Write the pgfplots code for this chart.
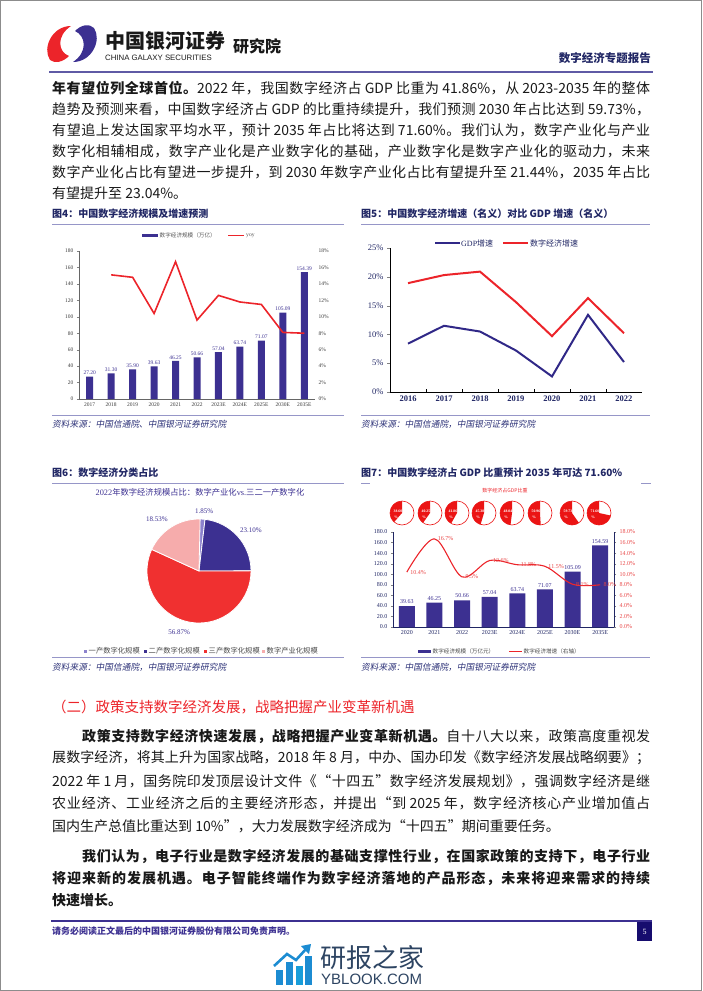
\documentclass[border=0pt]{standalone}
\usepackage{fontspec}
\usepackage{pgfplots}
\pgfplotsset{compat=1.18}
\setmainfont{Liberation Serif}
\newfontfamily\cjk{Noto Sans CJK SC}
\newfontfamily\cjkit{Noto Sans CJK SC}[FakeSlant=0.18]
\newfontfamily\sansf{Liberation Sans}
\newXeTeXintercharclass\cjkcls
\newcount\cjkc
\def\setcjkrange#1#2{\cjkc=#1\relax\loop\XeTeXcharclass\cjkc=\cjkcls\relax\ifnum\cjkc<#2\relax\advance\cjkc by 1\relax\repeat}
\setcjkrange{"3000}{"303F}
\setcjkrange{"4E00}{"9FFF}
\setcjkrange{"FF00}{"FFEF}
\XeTeXinterchartokenstate=1
\XeTeXinterchartoks\cjkcls\cjkcls={\hskip0pt plus 1fil minus 0.3pt\relax}
\XeTeXinterchartoks 0 \cjkcls={\hskip0pt plus 1fil minus 0.3pt\relax}
\XeTeXinterchartoks\cjkcls 0 ={\hskip0pt plus 1fil minus 0.3pt\relax}
\definecolor{navy}{RGB}{60,48,145}
\definecolor{gdpblue}{RGB}{48,40,135}
\definecolor{dnavy}{RGB}{32,38,100}
\definecolor{rred}{RGB}{236,36,42}
\definecolor{lred}{RGB}{232,70,70}
\definecolor{rulec}{RGB}{150,150,200}
\definecolor{srcc}{RGB}{45,50,120}
\definecolor{txt}{RGB}{25,25,25}
\definecolor{lpur}{RGB}{140,130,205}
\definecolor{pinkc}{RGB}{246,172,172}
\definecolor{pier}{RGB}{240,48,48}
\definecolor{minired}{RGB}{235,20,20}
\definecolor{wmblue}{RGB}{28,140,210}
\definecolor{wmtext}{RGB}{45,68,98}
\definecolor{hdrrule}{RGB}{95,90,165}
\definecolor{framec}{RGB}{140,140,140}
\definecolor{boxc}{RGB}{22,12,110}
\newcommand{\fs}[1]{\fontsize{#1}{#1}\selectfont}
\newcommand{\jl}[4]{\node[anchor=west,inner sep=0pt,text=txt] at (#1,#2) {\cjk\fs{14}\makebox[#3pt][s]{#4}};}
\newcommand{\jn}[3]{\node[anchor=west,inner sep=0pt,text=txt] at (#1,#2) {\cjk\fs{14}#3};}
\newcommand{\minipie}[3]{%
  \fill[white] (axis cs:#1,-513) circle[radius=12pt];
  \fill[minired] (axis cs:#1,-513) -- ++(90:12pt) arc[start angle=90, delta angle=#2*3.6, radius=12pt] -- cycle;
  \draw[minired, line width=0.6pt] (axis cs:#1,-513) circle[radius=12pt];
  \node[text=white, font=\fs{3.8}\bfseries, inner sep=0pt, xshift=-4pt, yshift=2pt] at (axis cs:#1,-513) {#3};
  \node[text=white, font=\fs{3.8}\bfseries, inner sep=0pt, xshift=-6pt, yshift=-4pt] at (axis cs:#1,-513) {\%};
}
\pgfplotsset{every axis/.append style={/pgf/number format/assume math mode=true, clip=false}}
\begin{document}
\begin{tikzpicture}[x=1pt,y=1pt]
\path[use as bounding box] (0,0) rectangle (702,-991);
\draw[framec, line width=1.2pt] (0.6,-0.6) rectangle (701.4,-990.4);
% ---------- header ----------
\fill[rred] (71,-26) .. controls (52,-26) and (42,-48) .. (50,-60) .. controls (55,-64) and (63,-62) .. (69,-56) .. controls (58,-52) and (56,-36) .. (71,-26) -- cycle;
\fill[navy] (73,-62) .. controls (92,-62) and (102,-40) .. (94,-28) .. controls (89,-23) and (81,-25) .. (75,-31) .. controls (86,-36) and (88,-52) .. (73,-62) -- cycle;
\node[anchor=west,inner sep=0pt,text=txt] at (105,-41) {\cjk\bfseries\fs{20}中国银河证券};
\node[anchor=west,inner sep=0pt,text=txt] at (105,-58) {\sansf\fs{7.8}CHINA GALAXY SECURITIES};
\node[anchor=west,inner sep=0pt,text=txt] at (233,-46) {\cjk\bfseries\fs{16}研究院};
\node[anchor=east,inner sep=0pt,text=dnavy] at (651,-58) {\cjk\bfseries\fs{11.5}数字经济专题报告};
\draw[hdrrule, line width=1.5pt] (49,-72) -- (653,-72);
% ---------- top paragraph ----------
\jl{52}{-88}{598}{\textbf{年有望位列全球首位。}2022 年，我国数字经济占 GDP 比重为 41.86\%，从 2023-2035 年的整体}
\jl{52}{-109}{598}{趋势及预测来看，中国数字经济占 GDP 的比重持续提升，我们预测 2030 年占比达到 59.73\%，}
\jl{52}{-130}{598}{有望追上发达国家平均水平，预计 2035 年占比将达到 71.60\%。我们认为，数字产业化与产业}
\jl{52}{-151}{598}{数字化相辅相成，数字产业化是产业数字化的基础，产业数字化是数字产业化的驱动力，未来}
\jl{52}{-172}{598}{数字产业化占比有望进一步提升，到 2030 年数字产业化占比有望提升至 21.44\%，2035 年占比}
\jn{52}{-193}{有望提升至 23.04\%。}
% ---------- figure titles / rules / sources ----------
\node[anchor=west,inner sep=0pt,text=dnavy] at (52,-214) {\cjk\bfseries\fs{10}图4：中国数字经济规模及增速预测};
\draw[rulec, line width=0.8pt] (52,-224) -- (344,-224);
\draw[rulec, line width=0.8pt] (52,-415) -- (344,-415);
\node[anchor=west,inner sep=0pt,text=srcc] at (52,-424) {\cjkit\fs{8.7}资料来源：中国信通院、中国银河证券研究院};
\node[anchor=west,inner sep=0pt,text=dnavy] at (361,-214) {\cjk\bfseries\fs{10}图5：中国数字经济增速（名义）对比 GDP 增速（名义）};
\draw[rulec, line width=0.8pt] (361,-224) -- (650,-224);
\draw[rulec, line width=0.8pt] (361,-415) -- (650,-415);
\node[anchor=west,inner sep=0pt,text=srcc] at (361,-424) {\cjkit\fs{8.7}资料来源：中国信通院，中国银河证券研究院};
\node[anchor=west,inner sep=0pt,text=dnavy] at (52,-473) {\cjk\bfseries\fs{10}图6：数字经济分类占比};
\draw[rulec, line width=0.8pt] (52,-483) -- (344,-483);
\draw[rulec, line width=0.8pt] (52,-657) -- (344,-657);
\node[anchor=west,inner sep=0pt,text=srcc] at (52,-667) {\cjkit\fs{8.7}资料来源：中国信通院，中国银河证券研究院};
\node[anchor=west,inner sep=0pt,text=dnavy] at (361,-473) {\cjk\bfseries\fs{10}图7：中国数字经济占 GDP 比重预计 2035 年可达 71.60\%};
\draw[rulec, line width=0.8pt] (361,-483) -- (370,-483);
\draw[rulec, line width=0.8pt] (641,-483) -- (651,-483);
\draw[rulec, line width=0.8pt] (361,-657) -- (650,-657);
\node[anchor=west,inner sep=0pt,text=srcc] at (361,-667) {\cjkit\fs{8.7}资料来源：中国信通院，中国银河证券研究院};
% ---------- Fig 4 ----------
\fill[navy] (142,-233.5) rectangle (158,-237);
\node[anchor=west,inner sep=0pt,text=txt!75] at (159.5,-235.3) {\cjk\fs{5.6}数字经济规模（万亿）};
\draw[rred, line width=1.5pt] (228,-235.3) -- (244,-235.3);
\node[anchor=west,inner sep=0pt,text=txt!75] at (246,-235.3) {\fs{5.6}yoy};
\begin{axis}[at={(79pt,-399pt)}, anchor=south west, scale only axis, width=236pt, height=148pt,
  xmin=-0.5, xmax=10.5, ymin=0, ymax=180,
  axis x line*=bottom, axis y line*=left, axis line style={-, draw=gray!80!black, line width=0.4pt},
  xtick={0,...,10}, xticklabels={2017,2018,2019,2020,2021,2022,2023E,2024E,2025E,2030E,2035E},
  major x tick style={draw=none},
  ytick={0,20,...,180}, ytick align=outside, major tick length=2pt,
  tick label style={font=\fs{5.5}, text=gray!45!black}]
\addplot[ybar, bar width=7pt, fill=navy, draw=none,
  nodes near coords={\pgfmathprintnumber[fixed,fixed zerofill,precision=2]{\pgfplotspointmeta}},
  nodes near coords style={font=\fs{5.5}, text=navy, inner sep=1.5pt}]
  coordinates {(0,27.20)(1,31.30)(2,35.90)(3,39.63)(4,46.25)(5,50.66)(6,57.04)(7,63.74)(8,71.07)(9,105.09)(10,154.39)};
\end{axis}
\begin{axis}[at={(79pt,-399pt)}, anchor=south west, scale only axis, width=236pt, height=148pt,
  xmin=-0.5, xmax=10.5, ymin=0, ymax=18, hide x axis, axis y line*=right, y axis line style={draw=none},
  ytick={0,2,...,18}, yticklabel={\pgfmathprintnumber{\tick}\%}, major tick style={draw=none},
  tick label style={font=\fs{5.5}, text=gray!45!black}]
\addplot[rred, line width=1.6pt, mark=none] coordinates {(1,15.1)(2,14.8)(3,10.4)(4,16.7)(5,9.6)(6,12.6)(7,11.8)(8,11.5)(9,8.1)(10,8.0)};
\end{axis}
% ---------- Fig 5 ----------
\draw[gdpblue, line width=2pt] (435,-243) -- (460,-243);
\node[anchor=west,inner sep=0pt,text=dnavy] at (461,-243) {\fs{8}GDP\cjk 增速};
\draw[rred, line width=2pt] (503,-243) -- (528,-243);
\node[anchor=west,inner sep=0pt,text=dnavy] at (530,-243) {\cjk\fs{8}数字经济增速};
\begin{axis}[at={(390pt,-392pt)}, anchor=south west, scale only axis, width=252pt, height=144pt,
  xmin=-0.5, xmax=6.5, ymin=0, ymax=25,
  axis x line*=bottom, axis y line*=left, axis line style={-, draw=black, line width=0.6pt},
  xtick={0,...,6}, xticklabels={2016,2017,2018,2019,2020,2021,2022}, major x tick style={draw=none},
  minor xtick={0.5,1.5,2.5,3.5,4.5,5.5}, minor x tick style={draw=black, line width=0.5pt}, minor tick length=3pt, xtick align=inside,
  ytick={0,5,...,25}, yticklabel={\pgfmathprintnumber{\tick}\%}, ytick align=outside, major tick length=3pt,
  xticklabel style={font=\fs{8.5}\bfseries, text=dnavy}, yticklabel style={font=\fs{8.5}, text=dnavy}]
\addplot[gdpblue, line width=2pt, mark=none] coordinates {(0,8.4)(1,11.5)(2,10.5)(3,7.2)(4,2.7)(5,13.4)(6,5.2)};
\addplot[rred, line width=2pt, mark=none] coordinates {(0,18.9)(1,20.3)(2,20.9)(3,15.6)(4,9.7)(5,16.3)(6,10.2)};
\end{axis}
% ---------- Fig 6 ----------
\node[text=navy,inner sep=0pt] at (200,-492) {\fs{8.3}2022\cjk 年数字经济规模占比：数字产业化\rmfamily vs.\cjk 三二一产数字化};
\begin{axis}[at={(199pt,-571pt)}, anchor=center, scale only axis, width=104pt, height=104pt,
  xmin=-1, xmax=1, ymin=-1, ymax=1, hide axis]
\addplot[draw=none] coordinates {(0,0)};
\fill[lpur, draw=white, line width=0.8pt] (axis cs:0,0) -- ++(90:52pt) arc[start angle=90, delta angle=-1.85*3.6, radius=52pt] -- cycle;
\fill[navy, draw=white, line width=0.8pt] (axis cs:0,0) -- ++(90-1.85*3.6:52pt) arc[start angle=90-1.85*3.6, delta angle=-23.10*3.6, radius=52pt] -- cycle;
\fill[pier, draw=white, line width=0.8pt] (axis cs:0,0) -- ++(90-24.95*3.6:52pt) arc[start angle=90-24.95*3.6, delta angle=-56.87*3.6, radius=52pt] -- cycle;
\fill[pinkc, draw=white, line width=0.8pt] (axis cs:0,0) -- ++(90-81.82*3.6:52pt) arc[start angle=90-81.82*3.6, delta angle=-18.53*3.6, radius=52pt] -- cycle;
\node[text=navy, font=\fs{7}, inner sep=0pt] at (axis cs:0.1,1.15) {1.85\%};
\node[text=navy, font=\fs{7}, inner sep=0pt] at (axis cs:1.0,0.79) {23.10\%};
\node[text=navy, font=\fs{7}, inner sep=0pt] at (axis cs:-0.38,-1.17) {56.87\%};
\node[text=navy, font=\fs{7}, inner sep=0pt] at (axis cs:-0.81,1.0) {18.53\%};
\end{axis}
\fill[lpur] (84,-649.5) rectangle (87,-652.5);
\node[anchor=west,inner sep=0pt,text=txt!80] at (88.5,-651) {\cjk\fs{7.3}一产数字化规模};
\fill[navy] (144,-649.5) rectangle (147,-652.5);
\node[anchor=west,inner sep=0pt,text=txt!80] at (148.5,-651) {\cjk\fs{7.3}二产数字化规模};
\fill[pier] (204,-649.5) rectangle (207,-652.5);
\node[anchor=west,inner sep=0pt,text=txt!80] at (208.5,-651) {\cjk\fs{7.3}三产数字化规模};
\fill[pinkc] (262,-649.5) rectangle (265,-652.5);
\node[anchor=west,inner sep=0pt,text=txt!80] at (266.5,-651) {\cjk\fs{7.3}数字产业化规模};
% ---------- Fig 7 ----------
\node[text=rred,inner sep=0pt] at (505,-491) {\cjk\fs{5}数字经济占GDP比重};
\begin{axis}[at={(390pt,-528pt)}, anchor=south west, scale only axis, width=230pt, height=30pt,
  xmin=390, xmax=620, ymin=-528, ymax=-498, hide axis]
\addplot[draw=none] coordinates {(400,-513)};
\minipie{402}{38.60}{38.60}
\minipie{430}{40.25}{40.25}
\minipie{457}{41.86}{41.86}
\minipie{484}{45.38}{45.38}
\minipie{512}{48.04}{48.04}
\minipie{540}{50.96}{50.96}
\minipie{572}{59.73}{59.73}
\minipie{599}{71.60}{71.60}
\end{axis}
\begin{axis}[at={(393pt,-627pt)}, anchor=south west, scale only axis, width=221pt, height=95pt,
  xmin=-0.5, xmax=7.5, ymin=0, ymax=180,
  axis x line*=bottom, axis y line*=left, axis line style={-, draw=dnavy, line width=0.5pt},
  xtick={0,...,7}, xticklabels={2020,2021,2022,2023E,2024E,2025E,2030E,2035E}, major x tick style={draw=none},
  ytick={0,20,...,180}, yticklabel={\pgfmathprintnumber[fixed,fixed zerofill,precision=1]{\tick}},
  ytick align=outside, major tick length=2pt,
  tick label style={font=\fs{6}, text=dnavy}]
\addplot[ybar, bar width=16pt, fill=navy, draw=none,
  nodes near coords={\pgfmathprintnumber[fixed,fixed zerofill,precision=2]{\pgfplotspointmeta}},
  nodes near coords style={font=\fs{6}, text=navy, inner sep=2pt}]
  coordinates {(0,39.63)(1,46.25)(2,50.66)(3,57.04)(4,63.74)(5,71.07)(6,105.09)(7,154.59)};
\end{axis}
\begin{axis}[at={(393pt,-627pt)}, anchor=south west, scale only axis, width=221pt, height=95pt,
  xmin=-0.5, xmax=7.5, ymin=0, ymax=18, hide x axis, axis y line*=right, y axis line style={-, draw=dnavy, line width=0.5pt},
  ytick={0,2,...,18}, yticklabel={\pgfmathprintnumber[fixed,fixed zerofill,precision=1]{\tick}\%},
  ytick align=outside, major tick length=2pt,
  tick label style={font=\fs{6}, text=lred}]
\addplot[rred, line width=1.1pt, smooth, tension=0.55, mark=none,
  nodes near coords={\pgfmathprintnumber[fixed,fixed zerofill,precision=1]{\pgfplotspointmeta}\%},
  nodes near coords style={anchor=west, font=\fs{6}, text=lred, xshift=3pt, inner sep=0pt}]
  coordinates {(0,10.4)(1,16.7)(2,9.5)(3,12.6)(4,11.8)(5,11.5)(6,8.1)(7,8.0)};
\end{axis}
\fill[navy] (418,-649.5) rectangle (431,-652.5);
\node[anchor=west,inner sep=0pt,text=txt!80] at (432.5,-651) {\cjk\fs{5.6}数字经济规模（万亿元）};
\draw[rred, line width=1pt] (509,-651) -- (522,-651);
\node[anchor=west,inner sep=0pt,text=txt!80] at (523.5,-651) {\cjk\fs{5.6}数字经济增速（右轴）};
% ---------- section heading and paragraphs ----------
\node[anchor=west,inner sep=0pt,text=rred] at (52,-707) {\cjk\fs{14.5}（二）政策支持数字经济发展，战略把握产业变革新机遇};
\jl{82}{-736}{568}{\textbf{政策支持数字经济快速发展，战略把握产业变革新机遇。}自十八大以来，政策高度重视发}
\jl{52}{-758}{598}{展数字经济，将其上升为国家战略，2018 年 8 月，中办、国办印发《数字经济发展战略纲要》；}
\jl{52}{-781}{598}{2022 年 1 月，国务院印发顶层设计文件《“十四五”数字经济发展规划》，强调数字经济是继}
\jl{52}{-803}{598}{农业经济、工业经济之后的主要经济形态，并提出“到 2025 年，数字经济核心产业增加值占}
\jn{52}{-826}{国内生产总值比重达到 10\%”，大力发展数字经济成为“十四五”期间重要任务。}
\jl{82}{-856}{568}{\textbf{我们认为，电子行业是数字经济发展的基础支撑性行业，在国家政策的支持下，电子行业}}
\jl{52}{-878}{598}{\textbf{将迎来新的发展机遇。电子智能终端作为数字经济落地的产品形态，未来将迎来需求的持续}}
\jn{52}{-900}{\textbf{快速增长。}}
% ---------- footer ----------
\draw[navy, line width=1.2pt] (51,-921) -- (652,-921);
\node[anchor=west,inner sep=0pt,text=navy] at (52,-931) {\cjk\bfseries\fs{9}请务必阅读正文最后的中国银河证券股份有限公司免责声明。};
\fill[boxc] (637,-922) rectangle (652,-941);
\node[text=white,inner sep=0pt] at (644.5,-931.5) {\fs{8}5};
% ---------- watermark ----------
\fill[wmblue] (276,-985) rectangle (283,-970);
\fill[wmblue] (286,-985) rectangle (293,-962);
\fill[wmblue!85!cyan] (296,-985) rectangle (303,-966);
\fill[wmblue] (305,-985) rectangle (312,-956);
\draw[wmblue, line width=2.6pt] (274,-966) -- (287,-954) -- (296,-960) -- (306,-949);
\fill[wmblue] (311,-944) -- (301,-946) -- (309,-954) -- cycle;
\node[anchor=west,inner sep=0pt,text=wmtext] at (320,-958) {\cjk\fs{26}研报之家};
\node[anchor=west,inner sep=0pt,text=wmtext] at (321,-979) {\sansf\fs{15}YBLOOK.COM};
\end{tikzpicture}
\end{document}
